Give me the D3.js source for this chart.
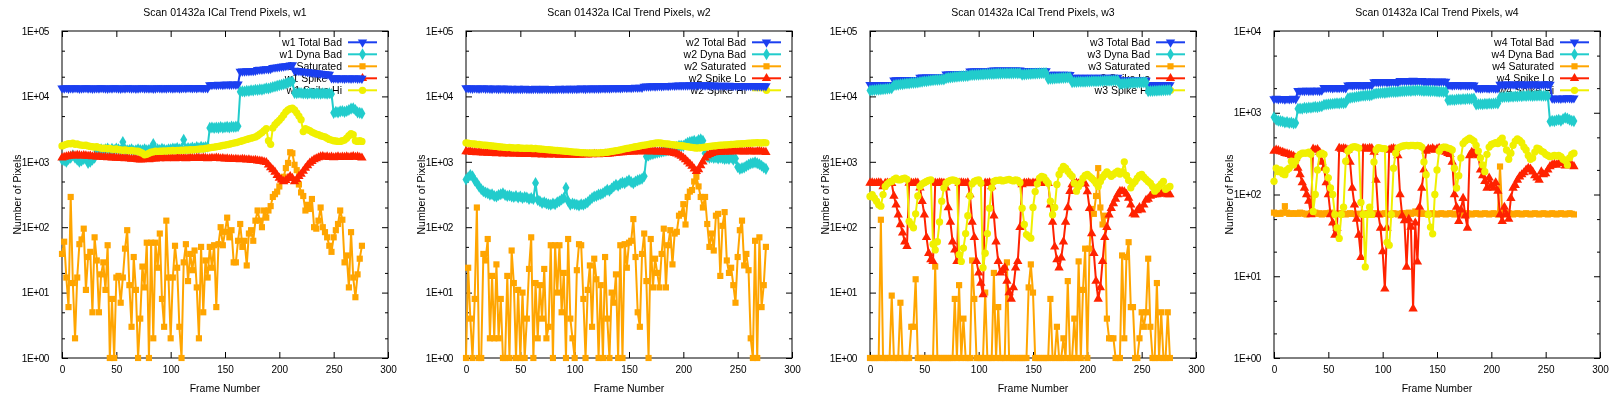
<!DOCTYPE html>
<html><head><meta charset="utf-8">
<script src="https://cdn.jsdelivr.net/npm/d3@7"></script>
<style>html,body{margin:0;padding:0;background:#fff;overflow:hidden;} svg{will-change:transform;} text{font-family:"Liberation Sans",Arial,Helvetica,sans-serif;fill:#000;}</style>
</head><body>
<script>
// ---------------- DATA ----------------
const FRAMES = [0,2,4,6,8,10,12,14,16,18,20,22,24,26,28,30,32,34,36,38,40,42,44,46,48,50,52,54,56,58,60,62,64,66,68,70,72,74,76,78,80,82,84,86,88,90,92,94,96,98,100,102,104,106,108,110,112,114,116,118,120,122,124,126,128,130,132,134,136,138,140,142,144,146,148,150,152,154,156,158,160,162,164,166,168,170,172,174,176,178,180,182,184,186,188,190,192,194,196,198,200,202,204,206,208,210,212,214,216,218,220,222,224,226,228,230,232,234,236,238,240,242,244,246,248,250,252,254,256,258,260,262,264,266,268,270,272,274,276];
const DETECTORS = ["w1","w2","w3","w4"];
const SERIES_NAMES = ["Total Bad","Dyna Bad","Saturated","Spike Lo","Spike Hi"];
const X_TICKS = [0,50,100,150,200,250,300];
const Y_MAX = [1e5,1e5,1e5,1e4];

const w1Total = [13400,13300,13500,13200,13400,13300,13500,13400,13200,13300,
13400,13500,13300,13400,13200,13300,13400,13300,13500,13400,
13300,13200,13400,13300,13500,13400,13300,13200,13400,13300,
13500,13400,13300,13400,13200,13300,13400,13500,13300,13400,
13300,13400,13200,13300,13500,13400,13300,13400,13300,13500,
13400,13300,13400,13500,13300,13400,13500,13400,13600,13500,
13400,13500,13400,13600,13500,13400,13500,13400,14900,15000,
15100,15000,15200,15100,15000,15200,15300,15100,15200,15300,
15200,15300,24000,24200,24100,24400,24300,24600,24500,24800,
25500,25800,25600,26000,26300,26200,26500,27500,27800,28000,
28300,28600,28900,29200,29500,30000,30300,24900,24700,24500,
24300,24100,23900,23600,23400,23200,23000,22800,22600,22400,
22200,22000,21800,21600,19000,18900,19100,18800,19000,18900,
18800,19000,18900,18800,18900,19000,18800,18900,18800];
const w1Dyna = [1080,1050,1000,1100,1150,1260,1150,1080,1000,1050,
1100,1150,960,1000,1080,1150,1450,1500,1550,1500,
1550,1600,1500,1580,1520,1600,1550,1500,2000,1550,
1500,1520,1550,1480,1500,1550,1520,1500,1550,1500,
1530,1560,1870,1500,1550,1520,1580,1540,1500,1560,
1550,1600,1580,1620,1550,1600,2170,1580,1620,1600,
1650,1600,1680,1620,1700,1650,1680,1700,3300,3350,
3280,3350,3300,3400,3320,3380,3420,3350,3450,3400,
3450,3500,11800,12000,11900,12200,12100,12400,12300,12600,
12500,12800,12700,13000,13300,13200,13600,13900,14200,14500,
14800,15100,15400,15800,16200,16600,16900,11300,11200,11400,
11300,11100,11200,11000,11300,11100,11000,11200,11100,11000,
11200,11100,11000,11200,10900,5600,5800,5700,5900,6000,
5800,6000,6200,6500,6600,6200,5700,5600,5500];
const w1Sat = [39,60,17,6,290,14,2,17,55,65,
95,11,35,42,5,70,31,5,19,29,
11,53,1,8,1,17,18,7,17,47,
90,13,3,35,11,1,4,25,12,58,
1,58,2,58,24,80,8,3,126,17,
2,17,52,24,3,1,29,55,15,39,
22,44,12,2,50,5,31,17,50,24,
53,6,55,100,53,85,140,70,90,29,
29,62,112,50,62,26,80,90,62,126,
180,126,100,180,140,180,210,290,320,350,
420,520,590,800,960,1400,1350,900,745,450,
340,300,180,220,190,270,100,95,126,200,
100,84,70,52,42,70,90,112,180,130,
29,37,12,84,17,8.5,19,33,52];
const w1Lo = [1150,1180,1200,1220,1230,1250,1240,1260,1250,1230,
1250,1240,1220,1230,1200,1210,1190,1200,1180,1170,
1180,1160,1170,1150,1160,1140,1150,1130,1140,1120,
1130,1120,1100,1110,1090,1080,1070,1080,1100,1090,
1080,1100,1120,1110,1130,1120,1140,1130,1120,1130,
1140,1130,1120,1140,1150,1130,1140,1120,1130,1150,
1140,1130,1150,1140,1130,1150,1140,1120,1130,1140,
1130,1150,1140,1120,1130,1110,1120,1100,1110,1090,
1100,1090,1080,1100,1090,1070,1080,1060,1050,1060,
1040,1030,1020,1000,980,900,820,760,700,620,
565,530,500,520,560,600,560,500,540,600,
650,720,800,880,960,1020,1080,1120,1160,1200,
1210,1180,1200,1170,1190,1160,1180,1200,1170,1190,
1180,1200,1170,1190,1210,1180,1200,1170,1150];
const w1Hi = [1750,1800,1850,1900,1880,1920,1850,1880,1820,1800,
1780,1800,1750,1720,1700,1680,1700,1650,1620,1600,
1620,1580,1600,1560,1550,1580,1540,1520,1500,1520,
1500,1480,1500,1470,1460,1450,1400,1350,1280,1300,
1350,1400,1420,1450,1440,1460,1450,1470,1460,1480,
1470,1490,1480,1500,1490,1510,1500,1520,1510,1530,
1520,1540,1550,1560,1580,1570,1600,1620,1640,1660,
1680,1700,1720,1750,1780,1800,1830,1860,1900,1930,
1960,2000,2050,2100,2150,2200,2250,2300,2350,2400,
2500,2650,2800,3000,3200,2100,1850,3300,3700,4000,
4300,4700,5200,5800,6200,6500,6600,6200,5600,5000,
4400,2900,3200,3100,3000,2850,2750,2650,2600,2500,
2450,2400,2300,2200,2150,2100,2080,2050,2050,2100,
2150,2300,2500,2700,2600,2100,2050,2100,2050];

const w2Total = [13500,13400,13300,13200,13400,13300,13200,13300,13400,13200,
13300,13200,13100,13300,13200,13100,13200,13300,13100,13200,
13100,13200,13000,13100,13200,13000,13100,13200,13000,13100,
13000,13100,13200,13000,13100,13000,13200,13100,13000,13100,
13100,13000,13100,13200,13100,13000,13200,13100,13200,13100,
13200,13100,13200,13300,13200,13100,13300,13200,13300,13200,
13300,13200,13300,13400,13300,13400,13300,13400,13500,13400,
13500,13400,13500,13600,13500,13600,13500,13600,13700,13600,
13700,13600,14200,14300,14200,14300,14400,14300,14400,14500,
14400,14500,14600,14500,14600,14700,14600,14700,14800,14700,
14800,14700,14800,14900,14800,14900,14800,14900,15000,14900,
14800,14900,14800,14700,14800,14700,14600,14700,14600,14700,
14600,14700,14600,14500,14600,14500,14600,14500,14600,14500,
14600,14500,14600,14500,14400,14500,14400,14500,14400];
const w2Dyna = [535,580,630,600,520,475,420,380,355,340,
330,315,320,300,295,310,320,330,310,300,
305,295,290,300,285,295,280,290,285,270,
280,270,475,260,250,235,240,230,225,220,
230,225,240,250,265,280,400,250,220,230,
225,220,215,225,220,230,240,260,280,295,
300,315,320,330,350,375,360,390,420,445,
430,460,480,470,500,520,490,470,500,520,
535,550,600,1200,1250,1300,1320,1350,1380,1400,
1420,1450,1480,1500,1550,1600,1650,1700,1750,1750,
1750,1850,1950,2000,2050,2100,2000,2150,2200,2100,
1350,1200,1150,1180,1140,1160,1120,1150,1130,1100,
1120,1100,1150,1080,1120,830,780,800,820,860,
900,940,960,980,950,920,870,820,780];
const w2Sat = [1,24,4,1,8,200,1,1,39,31,
66,2,18,2,27,2,8,1,1,18,
1,44,14,1,11,1,10,1,4,23,
70,1,14,2,13,4,23,2,3,53,
1,53,10,53,5,20,1,66,4,2,
1,22,55,53,8,1,11,26,3,33,
16,1,13,1,35,4,1,10,7,19,
1,53,1,55,24,58,62,133,35,5,
3,39,80,15,1,66,12,33,20,12,
39,95,12,53,90,27,80,85,150,160,
225,110,290,350,370,500,590,420,290,200,
290,112,50,80,44,150,160,18,105,170,
31,20,24,13,7,35,90,126,26,39,
22,2,1,62,1,70,6,13,50];
const w2Lo = [1440,1420,1450,1400,1420,1380,1400,1390,1370,1380,
1360,1380,1350,1370,1340,1360,1350,1330,1350,1340,
1330,1350,1320,1340,1330,1310,1320,1300,1320,1310,
1300,1320,1290,1310,1300,1280,1300,1290,1280,1300,
1290,1280,1300,1270,1290,1280,1270,1290,1280,1270,
1280,1290,1270,1280,1300,1290,1280,1300,1290,1310,
1300,1290,1310,1300,1320,1310,1330,1340,1350,1360,
1370,1380,1390,1400,1410,1420,1430,1420,1440,1430,
1440,1450,1440,1430,1450,1440,1430,1440,1420,1430,
1420,1430,1410,1400,1390,1380,1350,1320,1280,1220,
1150,1080,1000,930,860,780,715,760,880,1000,
1150,1250,1300,1350,1380,1400,1420,1410,1430,1420,
1440,1420,1430,1450,1440,1430,1450,1440,1420,1430,
1450,1440,1430,1420,1440,1450,1430,1420,1400];
const w2Hi = [1950,1920,1900,1880,1870,1850,1840,1820,1800,1790,
1780,1760,1750,1730,1720,1700,1690,1680,1660,1650,
1660,1640,1630,1620,1640,1610,1620,1600,1610,1600,
1620,1590,1600,1580,1570,1560,1550,1540,1530,1520,
1510,1500,1490,1480,1470,1460,1450,1440,1430,1420,
1410,1400,1390,1380,1380,1370,1370,1360,1370,1360,
1370,1360,1380,1370,1390,1400,1420,1440,1460,1480,
1500,1520,1550,1580,1600,1620,1650,1680,1700,1720,
1750,1780,1800,1820,1850,1880,1900,1920,1950,1940,
1920,1900,1880,1870,1850,1830,1810,1790,1770,1760,
1750,1720,1700,1680,1660,1640,1620,1630,1640,1660,
1680,1700,1720,1740,1750,1760,1780,1790,1800,1810,
1820,1830,1840,1850,1860,1870,1880,1890,1900,1910,
1920,1930,1940,1950,1960,1950,1940,1960,1950];

const w3Total = [15100,15000,15100,15000,15100,15000,15100,15000,15100,15000,
15100,17700,17800,17700,17800,17700,17800,17700,17800,17700,
17800,17700,17800,19500,19600,19500,19600,19500,19600,19500,
19600,19500,19600,19500,19600,21800,21900,21800,21900,21800,
21900,21800,21900,21800,21900,21800,24200,24300,24200,24300,
24200,24300,24200,24300,24200,24300,25000,25100,25000,25100,
25000,25100,25000,25100,25000,25100,25000,25100,25000,25100,
24500,24600,24500,24600,24500,24600,24500,24600,24500,24600,
24500,24600,21500,21600,21500,21600,21500,21600,21500,21600,
21500,21600,21500,19300,19400,19300,19400,19300,19400,19300,
19400,19300,19400,19300,19400,19300,19400,19300,19400,19300,
19400,19300,19400,19300,19400,17600,17700,17600,17700,17600,
17700,17600,17700,17600,17700,17600,17700,17600,15000,15100,
15000,15100,15000,15100,15000,15100,15000,15100,15000];
const w3Dyna = [12300,12400,12500,12600,12700,12800,12900,13000,13100,13200,
13300,14800,15000,15100,15300,15400,15600,15700,15800,16000,
16100,16200,16300,16600,16800,17000,17100,17300,17500,17600,
17800,17900,18000,18100,18200,19000,19300,19500,19700,19900,
20000,20200,20300,20400,20500,20600,21000,21200,21300,21400,
21500,21600,21700,21800,21900,22000,22000,22100,22200,22300,
22300,22400,22400,22500,22400,22500,22500,22600,22500,22600,
21500,21700,21800,22000,22100,22200,22300,22400,22500,22600,
22700,22800,18500,18600,18700,18800,18900,19000,19100,19200,
19300,19400,19500,16500,16600,16600,16700,16700,16800,16800,
16900,16900,17000,17000,17100,17100,17200,17200,17300,17300,
17400,17400,17500,17500,17500,15500,15600,15700,15800,15900,
16000,16100,16200,16200,16300,16300,16400,16400,12000,12100,
12100,12200,12200,12300,12300,12400,12400,12500,12500];
const w3Sat = [1,1,1,1,1,130,1,1,1,1,
9,1,1,1,7,1,1,1,1,3,
3,16,1,1,1,1,1,1,1,1,
25,1,1,1,1,1,1,1,1,8,
1,13,1,4,1,1,1,31,8,1,
1,1,1,10,1,1,1,20,1,6,
1,1,1,29,1,1,1,1,1,1,
1,1,1,12,27,10,1,1,1,1,
1,1,1,8,1,1,3,1,1,2,
1,15,1,1,4,1,30,1,11,47,
1,47,190,160,300,800,200,110,150,4,
2,2,2,1,1,1,37,2,35,59,
6,6,1,1,2,5,3,5,33,3,
1,1,14,1,5,1,1,5,1];
const w3Lo = [475,480,470,475,480,475,420,470,475,470,
470,300,220,155,110,82,60,51,475,475,
470,480,475,400,250,155,70,40,32,30,
475,470,480,475,470,400,200,120,60,45,
30,475,480,475,470,480,315,120,70,30,
20,14,9.3,475,470,480,420,150,60,30,
20,22,24,15,10,8,12,24,30,100,
450,475,470,480,465,475,470,480,475,470,
475,480,470,220,120,50,32,24,34,60,
120,200,355,450,470,475,465,470,475,460,
350,195,80,40,15,8,12,30,70,100,
155,195,230,270,315,355,355,350,320,280,
220,160,155,180,200,185,220,260,270,300,
310,315,315,320,330,330,325,315,315];
const w3Hi = [295,315,280,250,220,210,315,420,460,490,
500,540,560,530,530,550,560,540,123,110,
98,160,300,420,460,480,500,520,530,55,
45,60,120,250,400,470,500,520,530,520,
500,38,30,48,80,150,300,460,500,520,
530,470,24,40,80,195,400,500,520,520,
530,510,520,530,540,520,510,530,520,480,
195,110,77,72,68,200,350,460,560,600,
580,520,470,250,155,200,450,640,750,850,
800,720,650,600,470,355,420,470,560,620,
640,600,560,520,470,420,500,580,640,700,
650,600,640,680,720,650,700,1000,620,520,
400,460,500,560,620,640,580,540,500,470,
420,355,380,420,460,500,380,400,420];

const w4Total = [1480,1500,1470,1490,1480,1460,1490,1470,1480,1500,
1470,1860,1850,1870,1860,1880,1850,1870,1860,1880,
1870,1860,1880,2020,2010,2030,2020,2000,2030,2020,
2010,2030,2020,2000,2180,2190,2170,2180,2200,2180,
2190,2170,2180,2200,2190,2180,2380,2390,2370,2380,
2390,2400,2370,2380,2390,2400,2380,2370,2460,2470,
2460,2450,2470,2460,2480,2460,2450,2470,2460,2420,
2430,2410,2420,2430,2410,2420,2400,2430,2420,2410,
2180,2190,2170,2180,2200,2180,2170,2190,2180,2170,
2180,2190,2180,2000,2010,1990,2000,2020,2000,1990,
2010,2000,1990,2000,2220,2230,2210,2220,2240,2220,
2230,2210,2220,2240,2230,2220,2210,2230,2220,2240,
2230,2220,2210,2230,2220,2240,2230,2220,1500,1490,
1510,1500,1490,1510,1500,1520,1510,1500,1510];
const w4Dyna = [880,820,800,790,780,760,770,750,760,740,
750,1120,1130,1120,1150,1140,1160,1150,1170,1180,
1170,1190,1200,1250,1260,1270,1280,1290,1300,1310,
1300,1320,1310,1330,1500,1520,1540,1550,1570,1580,
1600,1610,1620,1640,1630,1650,1700,1720,1730,1740,
1760,1750,1770,1780,1790,1800,1790,1810,1820,1830,
1840,1850,1860,1850,1870,1860,1880,1870,1860,1850,
1860,1850,1840,1850,1830,1820,1810,1820,1800,1810,
1420,1430,1440,1430,1450,1460,1450,1470,1460,1480,
1470,1480,1490,1260,1270,1280,1270,1290,1280,1300,
1290,1300,1310,1300,1540,1550,1560,1570,1560,1580,
1570,1590,1580,1600,1590,1610,1600,1620,1610,1600,
1620,1610,1630,1620,1610,1620,1600,780,800,790,
810,820,800,840,870,850,820,800,790];
const w4Sat = [60,58,59,58,60,72,60,58,59,58,
59,58,60,59,58,57,58,59,58,60,
58,59,57,58,59,58,60,58,57,58,
58,59,58,57,58,59,58,58,57,58,
58,57,58,59,58,57,58,59,58,57,
58,59,58,57,58,59,58,57,58,59,
58,59,60,58,59,62,60,58,59,58,
58,57,58,59,58,57,58,59,58,57,
58,59,58,57,58,59,58,57,58,59,
58,57,58,59,58,57,58,59,58,57,
58,59,58,57,220,58,57,58,59,58,
57,58,59,58,57,58,59,58,57,58,
59,58,57,58,59,58,57,58,59,58,
57,58,59,58,57,58,59,58,57];
const w4Lo = [340,350,345,335,330,320,315,310,300,295,
280,210,175,140,120,100,83,57,360,350,
355,330,250,210,140,100,57,45,32,39,
370,360,365,360,350,250,120,75,50,32,
17,370,365,360,370,365,330,150,57,39,
20,7,39,350,360,365,355,300,100,55,
48,13,50,40,4,45,15,70,120,200,
340,360,355,365,350,360,370,355,360,330,
320,310,250,100,70,47,65,90,55,39,
300,330,320,310,300,200,170,145,120,160,
130,120,140,110,57,47,70,57,50,90,
120,130,150,165,175,185,200,210,205,190,
170,160,150,190,175,180,200,220,230,235,
230,240,245,240,225,235,240,230,220];
const w4Hi = [145,210,190,200,180,175,200,210,255,230,
255,290,310,320,320,320,330,310,62,100,
200,310,320,310,200,160,120,100,57,39,
29,57,70,255,340,360,380,385,380,370,
80,57,13,57,70,57,250,350,375,370,
365,365,26,24,57,210,320,370,380,390,
395,400,395,400,400,395,400,395,380,250,
175,57,40,33,100,200,340,370,380,380,
370,365,350,210,120,170,280,420,450,470,
490,470,450,400,340,280,230,190,310,380,
410,420,430,420,460,490,420,350,270,320,
400,450,480,460,430,380,350,300,270,280,
330,370,360,340,330,310,300,290,295,300,
295,300,290,270,260,230,280,310,320];

// ---------------- LAYOUT / STYLE ----------------
const PANEL_LEFT = [62,466,870,1274];
const W = 326, H = 327, TOP = 31;
const COLORS = ["#1b3ff0","#22cccc","#ffa500","#ff2200","#f0f000"];
const FONT = '"Liberation Sans",Arial,Helvetica,sans-serif';

const PANEL_SERIES = [
  [w1Total,w1Dyna,w1Sat,w1Lo,w1Hi],
  [w2Total,w2Dyna,w2Sat,w2Lo,w2Hi],
  [w3Total,w3Dyna,w3Sat,w3Lo,w3Hi],
  [w4Total,w4Dyna,w4Sat,w4Lo,w4Hi]
];

const symGen = [
  {t:d3.symbolTriangle, s:38, rot:180},
  {t:d3.symbolDiamond, s:42, rot:0},
  {t:d3.symbolSquare, s:38, rot:0},
  {t:d3.symbolTriangle, s:38, rot:0},
  {t:d3.symbolCircle, s:42, rot:0}
];
const symPath = symGen.map(s => d3.symbol().type(s.t).size(s.s)());

const svg = d3.select("body").append("svg").attr("width",1622).attr("height",398);
svg.append("rect").attr("width",1622).attr("height",398).attr("fill","#fff");

const fmtExp = v => { const e = Math.round(Math.log10(v)); return "1E+" + String(e).padStart(2,"0"); };

DETECTORS.forEach((det, pi) => {
  const left = PANEL_LEFT[pi];
  const ymax = Y_MAX[pi];
  const x = d3.scaleLinear().domain([0,300]).range([left, left+W]);
  const y = d3.scaleLog().domain([1, ymax]).range([TOP+H, TOP]);
  const g = svg.append("g");

  const decades = d3.range(0, Math.round(Math.log10(ymax))+1).map(e => Math.pow(10,e));
  const minors = [];
  decades.slice(0,-1).forEach(d => { minors.push(d*2, d*5); });

  const styleAxis = sel => {
    sel.select(".domain").remove();
    sel.selectAll("line").attr("stroke","#000").attr("stroke-width",1);
    sel.selectAll("text").attr("font-family",FONT).attr("font-size",10).attr("fill","#000");
  };

  g.append("g").attr("transform",`translate(0,${TOP+H})`)
    .call(d3.axisBottom(x).tickValues(X_TICKS).tickSize(-6).tickPadding(8).tickFormat(d3.format("d"))).call(styleAxis);
  g.append("g").attr("transform",`translate(0,${TOP})`)
    .call(d3.axisTop(x).tickValues(X_TICKS).tickSize(-6).tickFormat("")).call(styleAxis);
  const yl = g.append("g").attr("transform",`translate(${left},0)`)
    .call(d3.axisLeft(y).tickValues(decades).tickSize(-6).tickPadding(13).tickFormat(fmtExp)).call(styleAxis);
  yl.selectAll("text").attr("letter-spacing","-0.4px");
  g.append("g").attr("transform",`translate(${left},0)`)
    .call(d3.axisLeft(y).tickValues(minors).tickSize(-3).tickFormat("")).call(styleAxis);
  g.append("g").attr("transform",`translate(${left+W},0)`)
    .call(d3.axisRight(y).tickValues(decades).tickSize(-6).tickFormat("")).call(styleAxis);
  g.append("g").attr("transform",`translate(${left+W},0)`)
    .call(d3.axisRight(y).tickValues(minors).tickSize(-3).tickFormat("")).call(styleAxis);

  g.append("rect").attr("x",left).attr("y",TOP).attr("width",W).attr("height",H)
    .attr("fill","none").attr("stroke","#000").attr("stroke-width",1);

  // title and labels
  g.append("text").attr("x",left+W/2).attr("y",16).attr("text-anchor","middle").attr("fill","#000")
    .attr("font-size",10.5).attr("font-family",FONT).text(`Scan 01432a ICal Trend Pixels, ${det}`);
  g.append("text").attr("x",left+W/2).attr("y",392).attr("text-anchor","middle").attr("fill","#000")
    .attr("font-size",10.5).attr("font-family",FONT).text("Frame Number");
  g.append("text").attr("transform",`translate(${left-45},${TOP+H/2}) rotate(-90)`).attr("fill","#000")
    .attr("text-anchor","middle").attr("dy","0.35em")
    .attr("font-size",10.5).attr("font-family",FONT).text("Number of Pixels");

  // legend
  const R = left + W;
  SERIES_NAMES.forEach((nm, si) => {
    const ly = TOP + 11.3 + 12*si;
    g.append("text").attr("x",R-46).attr("y",ly).attr("dy","0.36em").attr("text-anchor","end").attr("fill","#000")
      .attr("font-size",10.5).attr("font-family",FONT).text(`${det} ${nm}`);
    g.append("line").attr("x1",R-40).attr("x2",R-11).attr("y1",ly).attr("y2",ly)
      .attr("stroke",COLORS[si]).attr("stroke-width",2);
    g.append("path").attr("d",symPath[si]).attr("fill",COLORS[si])
      .attr("transform",`translate(${R-25.5},${ly}) rotate(${symGen[si].rot})`);
  });

  // data
  PANEL_SERIES[pi].forEach((vals, si) => {
    const pts = vals.map((v,i) => [FRAMES[i], v]);
    const line = d3.line().x(d => x(d[0])).y(d => y(d[1]));
    const sg = g.append("g");
    sg.append("path").attr("d", line(pts)).attr("fill","none")
      .attr("stroke",COLORS[si]).attr("stroke-width",2).attr("stroke-linejoin","round");
    sg.selectAll("path.m").data(pts).enter().append("path").attr("class","m")
      .attr("d",symPath[si]).attr("fill",COLORS[si])
      .attr("transform",d => `translate(${x(d[0])},${y(d[1])}) rotate(${symGen[si].rot})`);
  });
});
</script>
</body></html>
